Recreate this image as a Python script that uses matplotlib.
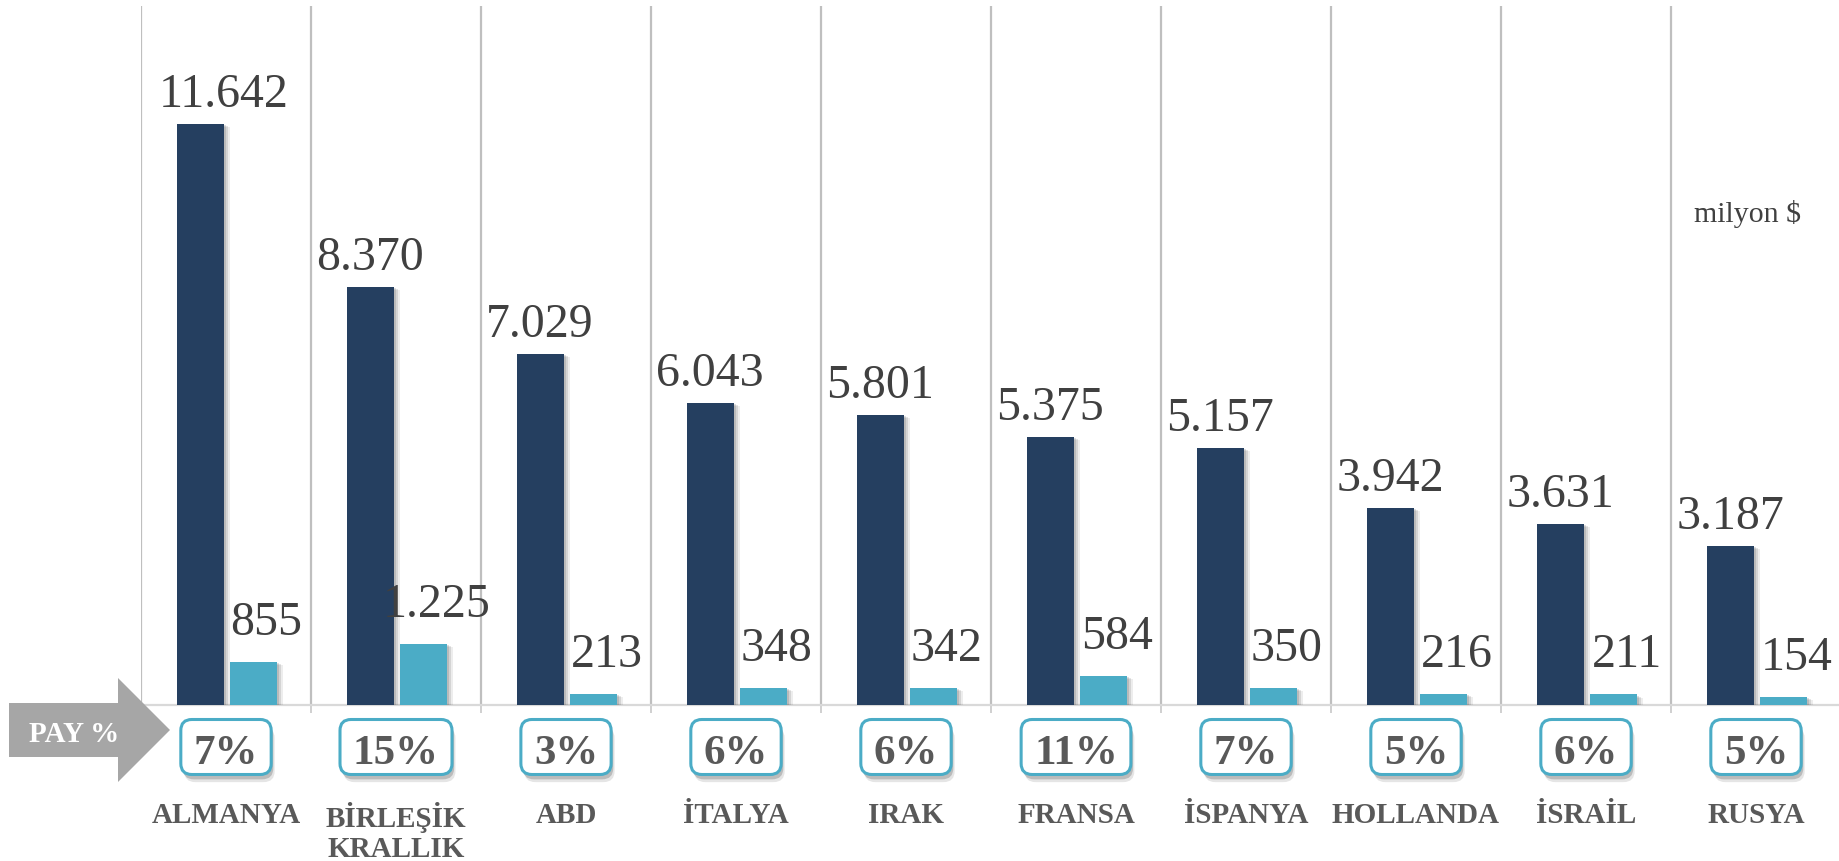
import matplotlib
matplotlib.use("Agg")
import matplotlib.pyplot as plt
import matplotlib.patheffects as pe
from matplotlib.patches import FancyBboxPatch, Polygon
from matplotlib.transforms import blended_transform_factory, IdentityTransform

# ---------------- data ----------------
countries = ["ALMANYA", "BİRLEŞİK\nKRALLIK", "ABD", "İTALYA", "IRAK",
             "FRANSA", "İSPANYA", "HOLLANDA", "İSRAİL", "RUSYA"]
series_a = [11642, 8370, 7029, 6043, 5801, 5375, 5157, 3942, 3631, 3187]
series_b = [855, 1225, 213, 348, 342, 584, 350, 216, 211, 154]
label_a = ["11.642", "8.370", "7.029", "6.043", "5.801", "5.375", "5.157", "3.942", "3.631", "3.187"]
label_b = ["855", "1.225", "213", "348", "342", "584", "350", "216", "211", "154"]
pay_pct = ["7%", "15%", "3%", "6%", "6%", "11%", "7%", "5%", "6%", "5%"]
unit_text = "milyon $"
pay_text = "PAY %"

# ---------------- style ----------------
W, H, DPI = 1840, 862, 100
DARK = "#253F60"
LIGHT = "#4BACC6"
GRID = "#BFBFBF"
TXT = "#404040"
LBL = "#595959"
SERIF = ["Liberation Serif", "DejaVu Serif"]

fig = plt.figure(figsize=(W / DPI, H / DPI), dpi=DPI)
ax_left, ax_right, ax_bottom, ax_top = 141, 1841, 706, 7
ax = fig.add_axes([ax_left / W, (H - ax_bottom) / H,
                   (ax_right - ax_left) / W, (ax_bottom - ax_top) / H])

n = len(countries)
xs = list(range(n))
bw = 0.276
off_a, off_b = -0.152, 0.162

def shadow():
    return [pe.SimplePatchShadow(offset=(1.5, -0.8), shadow_rgbFace="black", alpha=0.12),
            pe.SimplePatchShadow(offset=(3.0, -1.5), shadow_rgbFace="black", alpha=0.10),
            pe.SimplePatchShadow(offset=(4.5, -2.2), shadow_rgbFace="black", alpha=0.07),
            pe.Normal()]

bars_a = ax.bar([x + off_a for x in xs], series_a, width=bw, color=DARK, zorder=3)
bars_b = ax.bar([x + off_b for x in xs], series_b, width=bw, color=LIGHT, zorder=3)
for b in list(bars_a) + list(bars_b):
    b.set_path_effects(shadow())

ax.set_xlim(-0.5, n - 0.5)
ax.set_ylim(0, 14000)

# gridlines at category boundaries
ax.set_xticks([x - 0.5 for x in range(n + 1)], minor=True)
ax.set_xticks([])
ax.set_yticks([])
ax.grid(which="minor", axis="x", color=GRID, lw=1.6, zorder=0)
ax.tick_params(axis="x", which="minor", length=6, width=1.4, color="#D0D0D0",
               direction="out", labelbottom=False)
for s in ["top", "left", "right"]:
    ax.spines[s].set_visible(False)
ax.spines["bottom"].set_color("#D9D9D9")
ax.spines["bottom"].set_linewidth(1.6)
ax.set_axisbelow(True)

# value labels
for i in xs:
    dx = 24 if i == 0 else 0
    ax.annotate(label_a[i], xy=(i + off_a, series_a[i]), xytext=(dx, 18),
                textcoords="offset pixels", ha="center", va="baseline",
                fontsize=34.5, family=SERIF, color=TXT, zorder=5)
    ax.annotate(label_b[i], xy=(i + off_b, series_b[i]), xytext=(13, 28),
                textcoords="offset pixels", ha="center", va="baseline",
                fontsize=34.5, family=SERIF, color=TXT, zorder=5)

trans = blended_transform_factory(ax.transData, ax.transAxes)
axh = ax_bottom - ax_top

# category labels (baseline of last line)
line_step = 34
for i in xs:
    nl = countries[i].count("\n")
    ax.text(i, -(823 + nl * line_step - ax_bottom) / axh, countries[i], transform=trans,
            ha="center", va="baseline", fontsize=21, fontweight="bold",
            family=SERIF, color=LBL, linespacing=1.15)

# percentage boxes
box_cy = 748
pct_texts = []
for i in xs:
    t = ax.text(i, -(764 - ax_bottom) / axh, pay_pct[i], transform=trans,
                ha="center", va="baseline", fontsize=31, fontweight="bold",
                family=SERIF, color=LBL, zorder=7)
    pct_texts.append(t)

fig.canvas.draw()
r = fig.canvas.get_renderer()
for i, t in enumerate(pct_texts):
    ext = t.get_window_extent(r)
    cx = (ext.x0 + ext.x1) / 2
    w = ext.width + 26
    h = 55
    cy = H - box_cy
    p = FancyBboxPatch((cx - w / 2, cy - h / 2), w, h,
                       boxstyle="round,pad=0,rounding_size=11",
                       transform=IdentityTransform(), facecolor="white",
                       edgecolor=LIGHT, lw=2.2, zorder=6, clip_on=False)
    p.set_path_effects([pe.SimplePatchShadow(offset=(1.5, -3.5), shadow_rgbFace="black", alpha=0.18),
                        pe.SimplePatchShadow(offset=(2.5, -5.5), shadow_rgbFace="black", alpha=0.10),
                        pe.Normal()])
    ax.add_artist(p)

# PAY % arrow
arrow_px = [(9, 704), (118, 704), (118, 679), (170, 731), (118, 783), (118, 758), (9, 758)]
arrow = Polygon([(x / W, 1 - y / H) for x, y in arrow_px], closed=True,
                transform=fig.transFigure, facecolor="#A6A6A6", edgecolor="none")
fig.add_artist(arrow)
fig.text(74 / W, 1 - 742 / H, pay_text, ha="center", va="baseline", fontsize=21,
         fontweight="bold", family=SERIF, color="white")

# unit note
fig.text(1748 / W, 1 - 222 / H, unit_text, ha="center", va="baseline", fontsize=21.5,
         family=SERIF, color=TXT)

fig.savefig("out.png", dpi=DPI)
